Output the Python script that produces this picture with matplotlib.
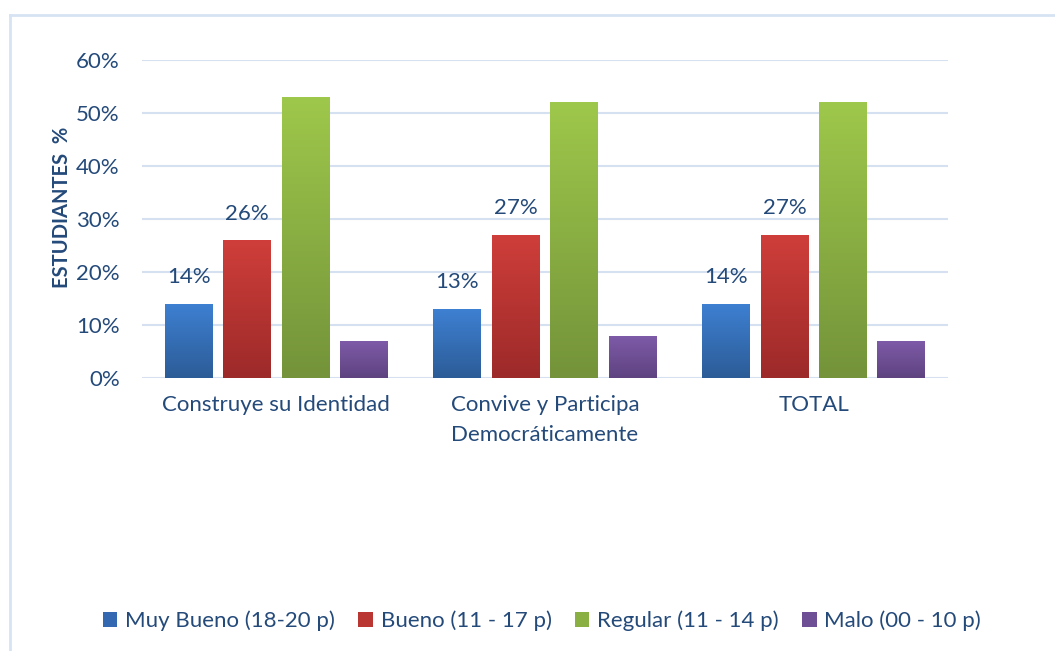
import numpy as np
import matplotlib
matplotlib.use("Agg")
import matplotlib.pyplot as plt
from matplotlib.colors import LinearSegmentedColormap
from matplotlib.patches import Rectangle, Patch
from matplotlib.lines import Line2D

categories = ["Construye su Identidad", "Convive y Participa\nDemocráticamente", "TOTAL"]
series_names = ["Muy Bueno (18-20 p)", "Bueno (11 - 17 p)", "Regular (11 - 14 p)", "Malo (00 - 10 p)"]
muy_bueno = [0.14, 0.13, 0.14]
bueno = [0.26, 0.27, 0.27]
regular = [0.53, 0.52, 0.52]
malo = [0.07, 0.08, 0.07]
y_ticks = [0.0, 0.1, 0.2, 0.3, 0.4, 0.5, 0.6]
y_tick_labels = ["0%", "10%", "20%", "30%", "40%", "50%", "60%"]
labeled_series = [0, 1]

series = [muy_bueno, bueno, regular, malo]
top_colors = ["#3E80D2", "#CF3E3A", "#9EC84B", "#7F5BA9"]
bot_colors = ["#2C5C97", "#9C2A29", "#74933A", "#5E4380"]
solid_colors = ["#3469B2", "#B93632", "#8AB043", "#6E4F95"]
text_color = "#244A7A"
grid_color = "#D5E1F0"
fs = 16

plt.rcParams['font.family'] = ['Lato', 'DejaVu Sans']

fig = plt.figure(figsize=(10.55, 6.51), dpi=100)
ax = fig.add_axes([142/1055, 1-378/651, (948-142)/1055, (378-60)/651])

# partial frame (top and left edges visible)
fig.lines.append(Line2D([10/1055, 1.0], [1-15/651, 1-15/651], transform=fig.transFigure,
                        color="#D6E3F2", linewidth=2))
fig.lines.append(Line2D([10/1055, 10/1055], [0.0, 1-15/651], transform=fig.transFigure,
                        color="#D6E3F2", linewidth=2))

x = np.arange(len(categories))
width = 0.178
step = 0.2175
offsets = (np.arange(4) - 1.5) * step

grad = np.linspace(1, 0, 256).reshape(-1, 1)
for i, vals in enumerate(series):
    cmap = LinearSegmentedColormap.from_list(f"c{i}", [bot_colors[i], top_colors[i]])
    bars = ax.bar(x + offsets[i], vals, width, color="none", edgecolor="none", zorder=3)
    for b in bars:
        x0, y0 = b.get_x(), b.get_y()
        w, h = b.get_width(), b.get_height()
        ax.add_patch(Rectangle((x0 + 0.003, -0.004), w, 0.004, facecolor="#BBBBBB",
                               edgecolor="none", zorder=2, alpha=0.6))
        im = ax.imshow(grad, extent=[x0, x0 + w, y0, y0 + h], aspect="auto", cmap=cmap,
                       vmin=0, vmax=1, zorder=3, origin="upper")
        im.set_clip_path(b)
    if i in labeled_series:
        for xi, v in zip(x + offsets[i], vals):
            ax.annotate(f"{round(v*100):.0f}%", (xi, v), xytext=(0, 12), textcoords="offset points",
                        ha="center", va="bottom", fontsize=fs, color=text_color)

ax.set_xlim(-0.5, 2.5)
ax.set_ylim(0, 0.6)
ax.set_yticks(y_ticks)
ax.set_yticklabels(y_tick_labels, fontsize=fs, color=text_color)
ax.set_xticks(x)
ax.set_xticklabels(categories, fontsize=fs, color=text_color, linespacing=1.65)
ax.tick_params(axis="both", length=0)
ax.tick_params(axis="x", pad=12)
ax.tick_params(axis="y", pad=16)
ax.yaxis.grid(True, color=grid_color, linewidth=1.5, zorder=0)
ax.set_axisbelow(True)
for s in ax.spines.values():
    s.set_visible(False)

fig.text(62/1055, 1-207/651, "ESTUDIANTES  %", rotation=90, ha="center", va="center",
         fontsize=14.5, fontweight="bold", color=text_color)

handles = [Patch(facecolor=solid_colors[i], edgecolor="none") for i in range(4)]
fig.legend(handles, series_names, loc="center", bbox_to_anchor=(542/1055, 1-621/651), ncol=4,
           frameon=False, fontsize=fs, labelcolor=text_color, handlelength=0.65, handleheight=0.65,
           handletextpad=0.35, columnspacing=1.05)

fig.savefig("out.png", dpi=100)
